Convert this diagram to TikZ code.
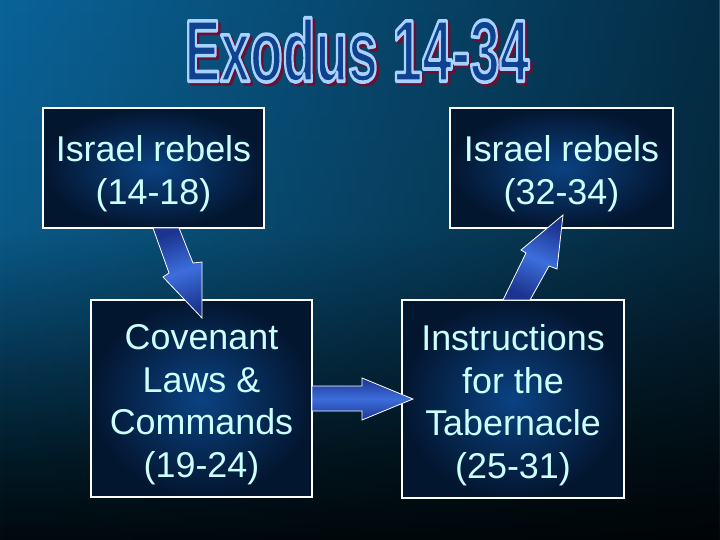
\documentclass[tikz,border=0pt]{standalone}
\usepackage{fontspec}
\usepackage{graphicx}
\setmainfont{Liberation Sans}
\usetikzlibrary{fadings}
\definecolor{bgA}{HTML}{0A6398}
\definecolor{bgB}{HTML}{0A5A88}
\definecolor{bgC}{HTML}{063450}
\definecolor{bgD}{HTML}{021A26}
\definecolor{bgE}{HTML}{010A0F}
\definecolor{boxin}{HTML}{0B4282}
\definecolor{boxout}{HTML}{031630}
\definecolor{txt}{HTML}{CCFFFF}
\definecolor{arrL}{HTML}{3C6EDC}
\definecolor{arrD}{HTML}{1C3490}
\definecolor{ttlfill}{HTML}{0E428F}
\definecolor{ttlshadow}{HTML}{6A1030}
\tikzfading[name=rightdark, left color=transparent!100, right color=transparent!45]
% outlined title text: fill + stroke render mode
\newcommand\ttltext[1]{\special{pdf:literal direct #1 RG 2 Tr 3.6 w 1 j}\scalebox{0.61}[1]{\fontsize{88}{88}\selectfont\bfseries Exodus 14-34}\special{pdf:literal direct 0 Tr}}
\tikzset{
  box/.style={draw=white, line width=1.2bp, inner color=boxin, outer color=boxout, inner sep=0},
  boxtext/.style={text=txt, align=center, font=\fontsize{36}{42.7}\selectfont},
  blockarrow/.style={draw=white, line width=0.8bp, line join=miter},
  ttl/.style={inner sep=0, anchor=center},
}
\begin{document}
\begin{tikzpicture}[x=1bp, y=-1bp]
\useasboundingbox (0,0) rectangle (720,540);
% background
\shade[top color=bgA, bottom color=bgB] (0,0) rectangle (720,230.5);
\shade[top color=bgB, bottom color=bgC] (0,230) rectangle (720,360.5);
\shade[top color=bgC, bottom color=bgD] (0,360) rectangle (720,460.5);
\shade[top color=bgD, bottom color=bgE] (0,460) rectangle (720,540);
\fill[black, path fading=rightdark] (0,0) rectangle (720,540);
% title
\node[ttl, text=ttlshadow] (titleshadow) at (359.5,52.5) {\ttltext{0.416 0.063 0.188}};
\node[ttl, text=ttlfill] (title) at (357,50) {\ttltext{0.66 0.82 1}};
% boxes
\node[box, minimum width=221bp, minimum height=120bp] (b1) at (153.5,168) {};
\node[box, minimum width=223bp, minimum height=120bp] (b2) at (561.5,168) {};
\node[box, minimum width=221bp, minimum height=197bp] (b3) at (201.5,398.5) {};
\node[box, minimum width=222bp, minimum height=198bp] (b4) at (513,399) {};
\node[boxtext] (t1) at ([yshift=-5.5bp]b1.center) {Israel rebels\\(14-18)};
\node[boxtext] (t2) at ([yshift=-5.5bp]b2.center) {Israel rebels\\(32-34)};
\node[boxtext] (t3) at ([yshift=-6bp]b3.center) {Covenant\\Laws \&\\Commands\\(19-24)};
\node[boxtext] (t4) at ([yshift=-6bp]b4.center) {Instructions\\for the\\Tabernacle\\(25-31)};
% arrows
\draw[blockarrow, left color=arrD, right color=arrD, middle color=arrL, shading angle=19]
  (153,228) -- (169,273) -- (163,277) -- (202,318) -- (202,262) -- (193,263) -- (179,228) -- cycle;
\draw[blockarrow, top color=arrD, bottom color=arrD, middle color=arrL]
  (312,386) -- (362,386) -- (362,378) -- (413,399) -- (362,420) -- (362,411) -- (312,411) -- cycle;
\draw[blockarrow, left color=arrD, right color=arrD, middle color=arrL, shading angle=-24]
  (503,300) -- (526,253) -- (521,250) -- (563,215) -- (557,269) -- (549,266) -- (530,300) -- cycle;
\end{tikzpicture}
\end{document}
